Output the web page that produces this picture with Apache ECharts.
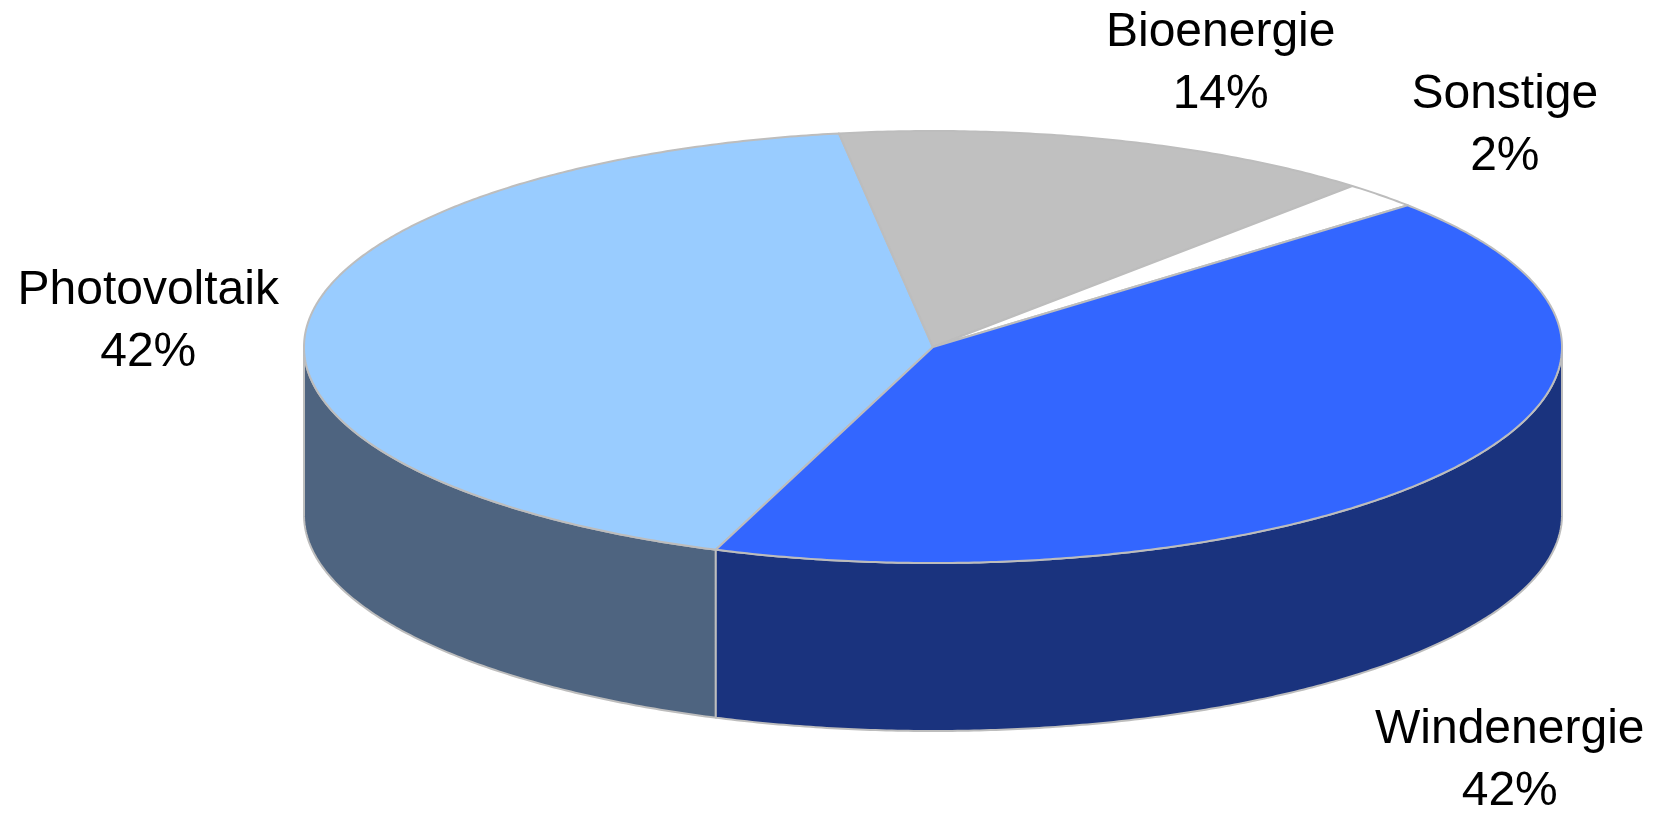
<!DOCTYPE html>
<html>
<head>
<meta charset="utf-8">
<script src="https://cdn.jsdelivr.net/npm/echarts@6/dist/echarts.min.js"></script>
<style>
  html, body { margin: 0; padding: 0; background: #fff; }
  #main { width: 1656px; height: 817px; }
</style>
</head>
<body>
<div id="main"></div>
<script>
// Anteile (Prozent), Reihenfolge im Uhrzeigersinn ab Startwinkel
const categories = ['Photovoltaik', 'Bioenergie', 'Sonstige', 'Windenergie'];
const shares = [42, 14, 2, 42];

// Styles
const topColors = ['#99CCFF', '#C0C0C0', '#FFFFFF', '#3366FF'];
const sideColors = ['#4E6480', '#8A8A8A', '#BFBFBF', '#1A337E'];
const edgeColor = '#BDBDBD';
// label offset in px from the slice's outer edge point
const labelOffsets = [[-159, -3], [108, -76], [124, -70], [59, 123]];

// pie geometry (px)
const geo = { cx: 933, cy: 347, rx: 629, ry: 216, depth: 168, start: 110.2 };

const total = shares.reduce((a, b) => a + b, 0);
const angles = [];
let acc = geo.start;
shares.forEach(v => {
  const span = v / total * 360;
  angles.push([acc, acc + span]);
  acc += span;
});

function pt(deg, dy) {
  const r = deg * Math.PI / 180;
  return [geo.cx + geo.rx * Math.cos(r), geo.cy + geo.ry * Math.sin(r) + (dy || 0)];
}
function arc(a0, a1, dy) {
  const pts = [];
  const n = Math.max(2, Math.ceil(Math.abs(a1 - a0) / 0.5));
  for (let i = 0; i <= n; i++) pts.push(pt(a0 + (a1 - a0) * i / n, dy));
  return pts;
}

const chart = echarts.init(document.getElementById('main'));
chart.setOption({
  animation: false,
  series: [{
    type: 'custom',
    coordinateSystem: 'none',
    data: shares.map((v, i) => ({ name: categories[i], value: v })),
    renderItem: function (params, api) {
      const i = params.dataIndex;
      const [a0, a1] = angles[i];
      const children = [];
      // front side walls (visible half: 0..180 and 360..540)
      [[0, 180], [360, 540]].forEach(([f0, f1]) => {
        const s = Math.max(a0, f0), e = Math.min(a1, f1);
        if (e > s) {
          const pts = arc(s, e, 0).concat(arc(e, s, geo.depth));
          children.push({
            type: 'polygon', z2: 1,
            shape: { points: pts },
            style: { fill: sideColors[i], stroke: edgeColor, lineWidth: 2 }
          });
        }
      });
      // top face
      children.push({
        type: 'polygon', z2: 10,
        shape: { points: [[geo.cx, geo.cy]].concat(arc(a0, a1, 0)) },
        style: { fill: topColors[i], stroke: edgeColor, lineWidth: 2, lineJoin: 'round' }
      });
      // label
      const mid = (a0 + a1) / 2;
      const norm = ((mid % 360) + 360) % 360;
      const edge = pt(mid, norm < 180 ? geo.depth : 0);
      const pct = Math.round(shares[i] / total * 100);
      children.push({
        type: 'text', z2: 20,
        x: edge[0] + labelOffsets[i][0],
        y: edge[1] + labelOffsets[i][1],
        style: {
          text: categories[i] + '\n' + pct + '%',
          fill: '#000',
          font: '48px "Liberation Sans", Arial, sans-serif',
          lineHeight: 62,
          align: 'center',
          verticalAlign: 'middle'
        }
      });
      return { type: 'group', children: children };
    }
  }]
});
</script>
</body>
</html>
